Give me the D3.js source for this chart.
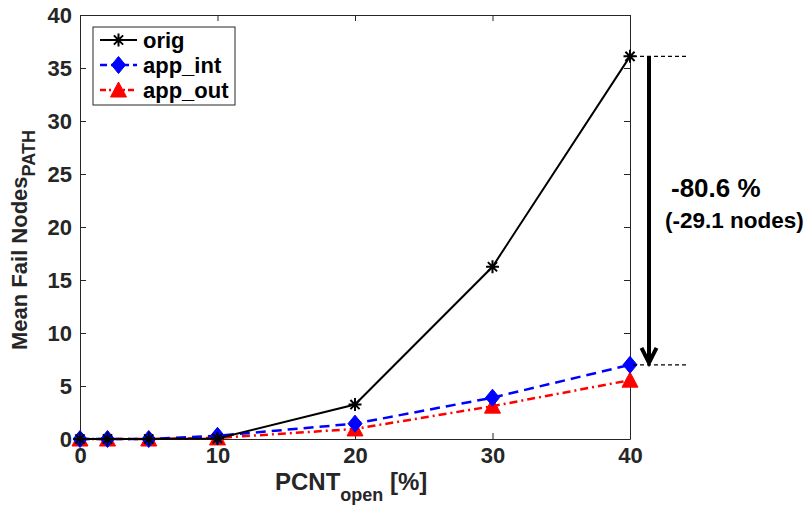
<!DOCTYPE html>
<html>
<head>
<meta charset="utf-8">
<script src="https://d3js.org/d3.v7.min.js"></script>
<style>
    body { margin: 0; background: #fff; }
    text { font-family: "Liberation Sans", Arial, sans-serif; font-weight: bold; }
</style>
</head>
<body>
<div id="canvas"></div>
<script>
    const width = 809;
    const height = 510;

    // data
    const pcnt = [0, 2, 5, 10, 20, 30, 40];
    const orig = [0, 0, 0, 0.05, 3.25, 16.25, 36.1];
    const appInt = [0, 0, 0, 0.3, 1.45, 3.9, 7.0];
    const appOut = [0, 0, 0, 0.1, 0.95, 3.1, 5.55];
    const xTicks = [0, 10, 20, 30, 40];
    const yTicks = [0, 5, 10, 15, 20, 25, 30, 35, 40];

    const series = [
        {name: "orig", values: orig, color: "#000", dash: null, marker: "star", width: 2},
        {name: "app_int", values: appInt, color: "#0000ff", dash: "10,6", marker: "diamond", width: 2.5},
        {name: "app_out", values: appOut, color: "#ff0000", dash: "8,4,2,4", marker: "triangle", width: 2.5}
    ];

    const plot = {left: 80, right: 630, top: 15, bottom: 439};
    const axisColor = "#262626";

    const x = d3.scaleLinear().domain([0, 40]).range([plot.left, plot.right]);
    const y = d3.scaleLinear().domain([0, 40]).range([plot.bottom, plot.top]);

    const svg = d3.select("#canvas")
        .append("svg")
        .attr("width", width)
        .attr("height", height);

    // axes with inward ticks on all four sides (box on)
    const tick = 6;
    svg.append("g")
        .attr("transform", `translate(0,${plot.bottom})`)
        .call(d3.axisBottom(x).tickValues(xTicks).tickSizeInner(-tick).tickSizeOuter(0).tickPadding(8))
        .call(g => g.selectAll("text").attr("font-size", 22).attr("fill", axisColor));
    svg.append("g")
        .attr("transform", `translate(0,${plot.top})`)
        .call(d3.axisTop(x).tickValues(xTicks).tickSizeInner(-tick).tickSizeOuter(0).tickFormat(""));
    svg.append("g")
        .attr("transform", `translate(${plot.left},0)`)
        .call(d3.axisLeft(y).tickValues(yTicks).tickSizeInner(-tick).tickSizeOuter(0).tickPadding(8))
        .call(g => g.selectAll("text").attr("font-size", 22).attr("fill", axisColor));
    svg.append("g")
        .attr("transform", `translate(${plot.right},0)`)
        .call(d3.axisRight(y).tickValues(yTicks).tickSizeInner(-tick).tickSizeOuter(0).tickFormat(""));

    svg.selectAll(".domain").attr("stroke", axisColor);
    svg.selectAll(".tick line").attr("stroke", axisColor);

    // axis labels
    const xLabel = svg.append("text")
        .attr("x", 275)
        .attr("y", 490)
        .attr("font-size", 24)
        .attr("fill", axisColor);
    xLabel.append("tspan").text("PCNT");
    xLabel.append("tspan").attr("font-size", 18).attr("dy", 11).text("open");
    xLabel.append("tspan").attr("dy", -11).text(" [%]");

    const yLabel = svg.append("text")
        .attr("transform", "translate(27,350) rotate(-90)")
        .attr("font-size", 22)
        .attr("fill", axisColor);
    yLabel.append("tspan").text("Mean Fail Nodes");
    yLabel.append("tspan").attr("font-size", 18).attr("dy", 8).text("PATH");

    // markers
    function drawMarker(g, type, cx, cy, color) {
        if (type === "star") {
            const r = 6.5;
            const p = d3.path();
            for (let i = 0; i < 4; i++) {
                const a = Math.PI * i / 4;
                p.moveTo(cx - r * Math.cos(a), cy - r * Math.sin(a));
                p.lineTo(cx + r * Math.cos(a), cy + r * Math.sin(a));
            }
            g.append("path").attr("d", p).attr("stroke", color).attr("stroke-width", 2).attr("fill", "none");
        } else if (type === "diamond") {
            g.append("path")
                .attr("d", `M${cx},${cy - 8.5}L${cx + 7},${cy}L${cx},${cy + 8.5}L${cx - 7},${cy}Z`)
                .attr("fill", color).attr("stroke", color);
        } else {
            g.append("path")
                .attr("d", `M${cx},${cy - 8}L${cx + 8},${cy + 7}L${cx - 8},${cy + 7}Z`)
                .attr("fill", color).attr("stroke", color);
        }
    }

    const line = d3.line().x(d => x(d[0])).y(d => y(d[1]));

    // draw from back to front: red, blue, black
    for (const s of series.slice().reverse()) {
        const pts = pcnt.map((p, i) => [p, s.values[i]]);
        svg.append("path")
            .attr("d", line(pts))
            .attr("fill", "none")
            .attr("stroke", s.color)
            .attr("stroke-width", s.width)
            .attr("stroke-dasharray", s.dash);
        const g = svg.append("g");
        for (const p of pts) drawMarker(g, s.marker, x(p[0]), y(p[1]), s.color);
    }

    // legend
    const legend = svg.append("g").attr("transform", "translate(93,27)");
    legend.append("rect")
        .attr("width", 142).attr("height", 78)
        .attr("fill", "#fff").attr("stroke", axisColor).attr("stroke-width", 1);
    series.forEach((s, i) => {
        const ly = 13 + i * 25;
        legend.append("line")
            .attr("x1", 7).attr("x2", 44).attr("y1", ly).attr("y2", ly)
            .attr("stroke", s.color).attr("stroke-width", s.width)
            .attr("stroke-dasharray", s.dash ? (s.marker === "diamond" ? "7,4" : "6,3,2,3") : null);
        drawMarker(legend, s.marker, 25.5, ly, s.color);
        legend.append("text")
            .attr("x", 50).attr("y", ly)
            .attr("dy", "0.35em")
            .attr("font-size", 22)
            .attr("fill", "#000")
            .text(s.name);
    });

    // annotation: reduction at 40 %
    const yHigh = y(orig[6]);
    const yLow = y(appInt[6]);
    const arrowX = 649;
    svg.append("line").attr("x1", 633).attr("x2", 689).attr("y1", yHigh).attr("y2", yHigh)
        .attr("stroke", "#000").attr("stroke-width", 1.3).attr("stroke-dasharray", "4,3");
    svg.append("line").attr("x1", 633).attr("x2", 689).attr("y1", yLow).attr("y2", yLow)
        .attr("stroke", "#000").attr("stroke-width", 1.3).attr("stroke-dasharray", "4,3");
    svg.append("line").attr("x1", arrowX).attr("x2", arrowX).attr("y1", yHigh).attr("y2", yLow - 2)
        .attr("stroke", "#000").attr("stroke-width", 4);
    svg.append("path")
        .attr("d", `M${arrowX - 7.5},${yLow - 17}L${arrowX},${yLow - 2}L${arrowX + 7.5},${yLow - 17}`)
        .attr("fill", "none").attr("stroke", "#000").attr("stroke-width", 4);

    svg.append("text")
        .attr("x", 671).attr("y", 197)
        .attr("font-family", "Lato, 'Open Sans', sans-serif")
        .attr("font-size", 26)
        .attr("fill", "#000")
        .text("-80.6 %");
    svg.append("text")
        .attr("x", 665).attr("y", 228)
        .attr("font-family", "Lato, 'Open Sans', sans-serif")
        .attr("font-size", 22.5)
        .attr("fill", "#000")
        .text("(-29.1 nodes)");
</script>
</body>
</html>
